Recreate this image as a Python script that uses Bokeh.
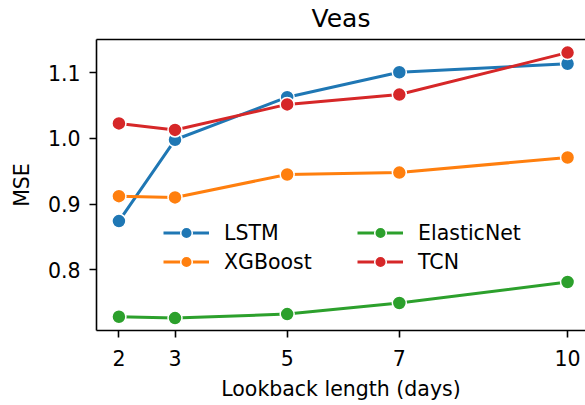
from bokeh.plotting import figure
from bokeh.models import (Range1d, LinearAxis, FixedTicker, NumeralTickFormatter,
                          Legend, LegendItem)
from bokeh.embed import file_html
from bokeh.resources import INLINE

# ---- data ----
lookback = [2, 3, 5, 7, 10]
lstm = [0.874, 0.998, 1.063, 1.101, 1.114]
xgboost = [0.912, 0.910, 0.945, 0.948, 0.971]
elasticnet = [0.728, 0.726, 0.732, 0.749, 0.781]
tcn = [1.023, 1.013, 1.052, 1.067, 1.131]
series_names = ["LSTM", "XGBoost", "ElasticNet", "TCN"]
series_values = [lstm, xgboost, elasticnet, tcn]
colors = ["#1f77b4", "#ff7f0e", "#2ca02c", "#d62728"]
x_ticks = [2, 3, 5, 7, 10]
y_ticks = [0.8, 0.9, 1.0, 1.1]
title_text = "Veas"

FONT = "DejaVu Sans"
FS = "20.5px"

p = figure(width=585, height=405, output_backend="svg", toolbar_location=None,
           x_range=Range1d(1.6, 10.32), y_range=Range1d(0.707, 1.151),
           min_border_left=96, min_border_right=0, min_border_top=39,
           min_border_bottom=75)
p.background_fill_color = "white"
p.border_fill_color = "white"
p.outline_line_color = None
p.grid.visible = False

for ax in (p.xaxis[0], p.yaxis[0]):
    ax.axis_line_color = "black"
    ax.axis_line_width = 1.6
    ax.major_tick_line_color = "black"
    ax.major_tick_line_width = 1.6
    ax.major_tick_in = 0
    ax.major_tick_out = 7
    ax.minor_tick_line_color = None
    ax.major_label_text_font = FONT
    ax.major_label_text_font_size = FS
    ax.major_label_text_color = "black"
    ax.axis_label_text_font = FONT
    ax.axis_label_text_font_size = FS
    ax.axis_label_text_font_style = "normal"
    ax.axis_label_text_color = "black"

p.xaxis.ticker = FixedTicker(ticks=x_ticks)
p.yaxis.ticker = FixedTicker(ticks=y_ticks)
p.yaxis.formatter = NumeralTickFormatter(format="0.0")
p.xaxis.axis_label = "Lookback length (days)"
p.yaxis.axis_label = "MSE"
p.xaxis.major_label_standoff = 12
p.yaxis.major_label_standoff = 9
p.xaxis.axis_label_standoff = 8
p.yaxis.axis_label_standoff = 11

# top spine, carrying the title
top = LinearAxis(ticker=FixedTicker(ticks=[]), axis_line_color="black",
                 axis_line_width=1.6, major_tick_line_color=None,
                 major_tick_out=0, major_tick_in=0, major_label_standoff=0,
                 minor_tick_line_color=None, minor_tick_out=0,
                 major_label_text_alpha=0, axis_label=title_text,
                 axis_label_text_font=FONT, axis_label_text_font_size="25px",
                 axis_label_text_font_style="normal",
                 axis_label_text_color="black", axis_label_standoff=7)
p.add_layout(top, "above")

renderers = []
for name, vals, c in zip(series_names, series_values, colors):
    ln = p.line(lookback, vals, line_color=c, line_width=3)
    sc = p.scatter(lookback, vals, size=14, fill_color=c, line_color="white",
                   line_width=1.5)
    renderers.append((name, ln, sc))

def make_legend(entries, loc):
    return Legend(items=[LegendItem(label=n, renderers=[l, s]) for n, l, s in entries],
                  location=loc, label_text_font=FONT, label_text_font_size=FS,
                  label_text_color="black", glyph_width=46, glyph_height=29,
                  label_height=29, label_standoff=15, spacing=0, padding=0,
                  margin=0, border_line_color=None, background_fill_alpha=0)

p.add_layout(make_legend(renderers[:2], (67, 54)), "center")
p.add_layout(make_legend(renderers[2:], (261, 54)), "center")

open("out.html", "w").write(file_html(p, INLINE))
